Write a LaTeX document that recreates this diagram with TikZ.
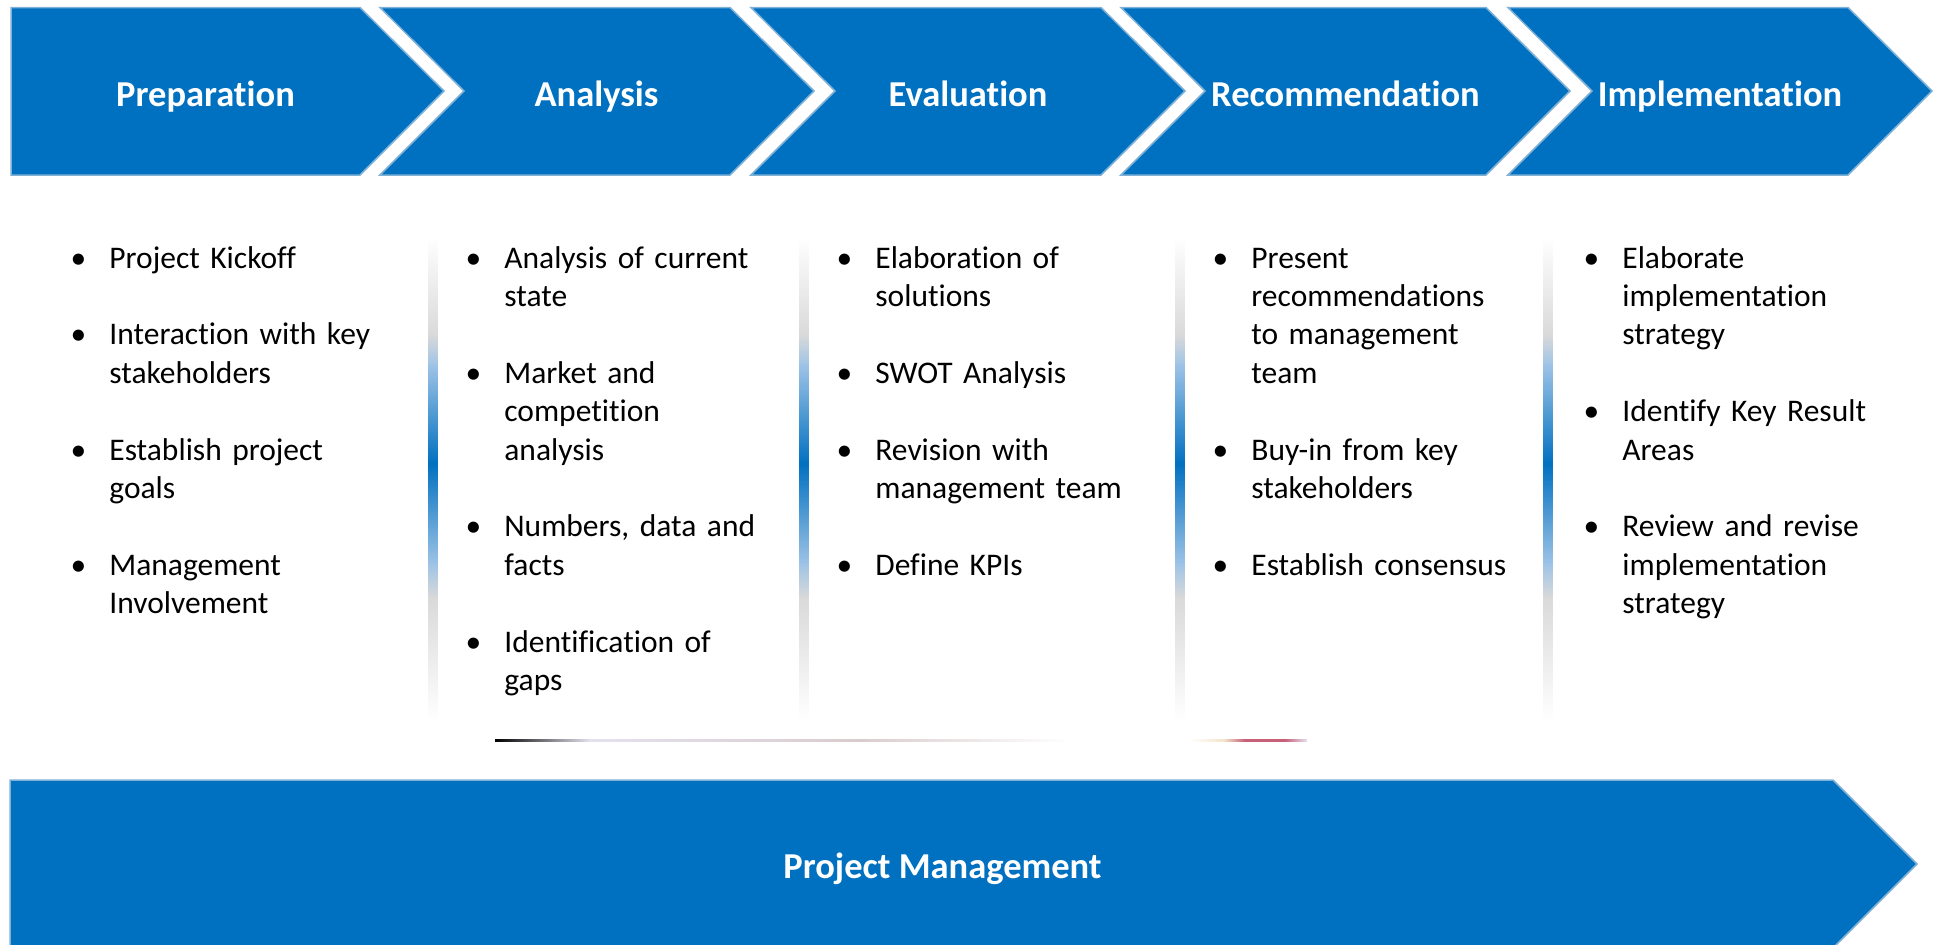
\documentclass[tikz,border=0pt]{standalone}
\usepackage{fontspec}
\setmainfont{Carlito}[Ligatures=NoCommon]

\definecolor{stageblue}{HTML}{0070C0}
\definecolor{stageedge}{HTML}{7FB0D6}
\definecolor{sepgray}{HTML}{D9D9D9}
\definecolor{seplight}{HTML}{9DC3E6}
\definecolor{rulelav}{HTML}{E4E1EE}
\definecolor{rulerose}{HTML}{D9CCCE}
\definecolor{rulebeige}{HTML}{F3E3C8}
\definecolor{rulepink}{HTML}{C8607A}

\newcommand{\listdot}{\leavevmode\llap{\makebox[0pt]{\textbullet}\hspace{15.5pt}}}

\begin{document}
\begin{tikzpicture}[x=0.5pt,y=-0.5pt,
        stage/.style={fill=stageblue,draw=stageedge,line width=0.75pt},
        stagetitle/.style={text=white,anchor=base,inner sep=0pt,font=\fontsize{18.25}{22}\selectfont\bfseries},
        stagelist/.style={anchor=base west,inner sep=0pt,text width=170pt,align=left,font=\fontsize{15.75}{19.2}\selectfont}]
        \useasboundingbox (0,0) rectangle (1939,944);

        \draw[stage] (11,7.5) -- (360,7.5) -- (444,91) -- (360,175) -- (11,175) -- cycle;
        \draw[stage] (380,7.5) -- (730,7.5) -- (814,91) -- (730,175) -- (380,175) -- (464,91) -- cycle;
        \draw[stage] (751,7.5) -- (1101,7.5) -- (1185,91) -- (1101,175) -- (751,175) -- (835,91) -- cycle;
        \draw[stage] (1121,7.5) -- (1486,7.5) -- (1570,91) -- (1486,175) -- (1121,175) -- (1205,91) -- cycle;
        \draw[stage] (1508,7.5) -- (1848,7.5) -- (1932,91) -- (1848,175) -- (1508,175) -- (1592,91) -- cycle;
        \draw[stage] (10,780) -- (1833,780) -- (1917,864) -- (1833,948) -- (10,948) -- cycle;

        \node[stagetitle] (PrepTitle) at (205.5,106) {Preparation};
        \node[stagetitle] (AnalysisTitle) at (596.5,106) {Analysis};
        \node[stagetitle] (EvalTitle) at (968,106) {Evaluation};
        \node[stagetitle] (RecoTitle) at (1345.5,106) {Recommendation};
        \node[stagetitle] (ImplTitle) at (1720,106) {Implementation};
        \node[stagetitle] (PMTitle) at (942.5,878) {Project Management};

        \foreach \sx in {433,804,1180,1548} {
            \shade[top color=white,bottom color=sepgray] (\sx-4.5,237) rectangle (\sx+4.5,336);
            \shade[top color=sepgray,bottom color=seplight] (\sx-4.5,335) rectangle (\sx+4.5,366);
            \shade[top color=seplight,bottom color=stageblue] (\sx-4.5,365) rectangle (\sx+4.5,464);
            \shade[top color=stageblue,bottom color=seplight] (\sx-4.5,463) rectangle (\sx+4.5,564);
            \shade[top color=seplight,bottom color=sepgray] (\sx-4.5,563) rectangle (\sx+4.5,598);
            \shade[top color=sepgray,bottom color=white] (\sx-4.5,597) rectangle (\sx+4.5,721);
        }

        \shade[left color=black,right color=rulelav] (495,739) rectangle (590,741.5);
        \shade[left color=rulelav,right color=rulerose] (589,739) rectangle (860,741.5);
        \shade[left color=rulerose,right color=white] (859,739) rectangle (1070,741.5);
        \shade[left color=white,right color=rulebeige] (1190,739) rectangle (1225,741.5);
        \shade[left color=rulebeige,right color=rulepink] (1224,739) rectangle (1245,741.5);
        \fill[rulepink] (1244,739) rectangle (1286,741.5);
        \shade[left color=rulepink,right color=rulelav] (1285,739) rectangle (1307,741.5);

        \node[stagelist] (PrepList) at (109,268) {\listdot Project Kickoff\\[19.2pt]\listdot Interaction with key\\stakeholders\\[19.2pt]\listdot Establish project\\goals\\[19.2pt]\listdot Management\\Involvement};
        \node[stagelist] (AnalysisList) at (504,268) {\listdot Analysis of current\\state\\[19.2pt]\listdot Market and\\competition\\analysis\\[19.2pt]\listdot Numbers, data and\\facts\\[19.2pt]\listdot Identification of\\gaps};
        \node[stagelist] (EvalList) at (875,268) {\listdot Elaboration of\\solutions\\[19.2pt]\listdot SWOT Analysis\\[19.2pt]\listdot Revision with\\management team\\[19.2pt]\listdot Define KPIs};
        \node[stagelist] (RecoList) at (1251,268) {\listdot Present\\recommendations\\to management\\team\\[19.2pt]\listdot Buy-in from key\\stakeholders\\[19.2pt]\listdot Establish consensus};
        \node[stagelist] (ImplList) at (1622,268) {\listdot Elaborate\\implementation\\strategy\\[19.2pt]\listdot Identify Key Result\\Areas\\[19.2pt]\listdot Review and revise\\implementation\\strategy};
    \end{tikzpicture}
\end{document}
